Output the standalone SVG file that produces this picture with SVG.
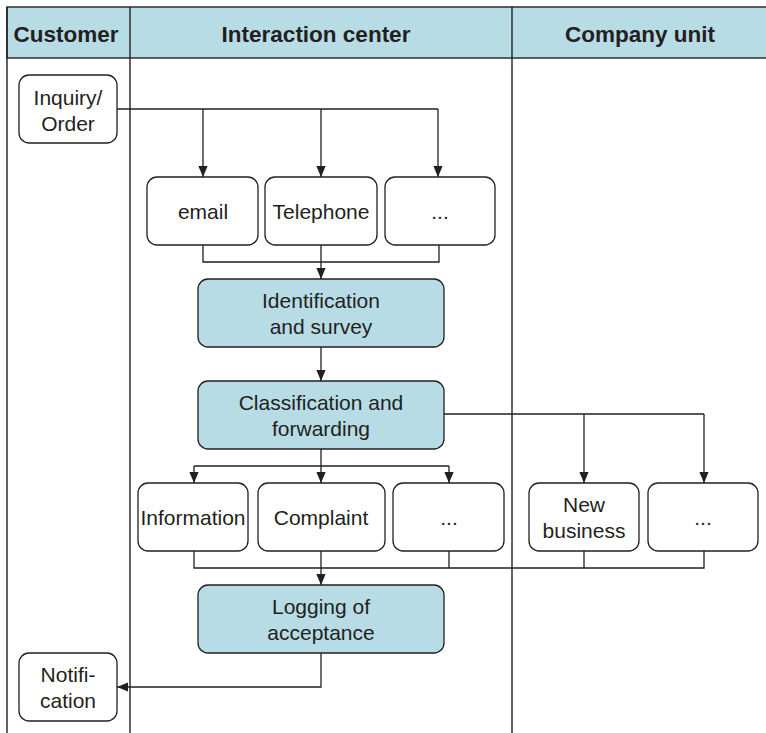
<svg xmlns="http://www.w3.org/2000/svg" width="766" height="733" viewBox="0 0 766 733">
<style>
.lane{fill:none;stroke:#231f20;stroke-width:1.4}
.hdr{fill:#b7dce6;stroke:#231f20;stroke-width:1.4}
.hd{font-family:"Liberation Sans",Arial,sans-serif;font-weight:bold;font-size:22.5px;fill:#231f20;text-anchor:middle}
.box{fill:#fff;stroke:#231f20;stroke-width:1.3}
.blue{fill:#b7dce6;stroke:#231f20;stroke-width:1.3}
.t{font-family:"Liberation Sans",Arial,sans-serif;font-size:21px;fill:#231f20;text-anchor:middle}
.c{fill:none;stroke:#231f20;stroke-width:1.3}
</style>
<defs>
<marker id="a" viewBox="0 0 10 10" refX="10" refY="5" markerWidth="11" markerHeight="11" markerUnits="userSpaceOnUse" orient="auto">
<path d="M0,0.8 L10,5 L0,9.2 Z" fill="#231f20"/>
</marker>
</defs>
<g id="lanes">
<rect class="hdr" x="7" y="7" width="770" height="51"/>
<line class="lane" x1="7" y1="7" x2="7" y2="733"/>
<line class="lane" x1="130" y1="7" x2="130" y2="733"/>
<line class="lane" x1="512" y1="7" x2="512" y2="733"/>
<text class="hd" x="66" y="42">Customer</text>
<text class="hd" x="316" y="42">Interaction center</text>
<text class="hd" x="640" y="42">Company unit</text>
</g>
<g id="connectors">
<path class="c" d="M117,109 H438"/>
<path class="c" d="M203,109 V177" marker-end="url(#a)"/>
<path class="c" d="M321,109 V177" marker-end="url(#a)"/>
<path class="c" d="M438,109 V177" marker-end="url(#a)"/>
<path class="c" d="M203,245 V262 H439 V245"/>
<path class="c" d="M321,245 V279" marker-end="url(#a)"/>
<path class="c" d="M321,347 V381" marker-end="url(#a)"/>
<path class="c" d="M444,414 H704"/>
<path class="c" d="M584,414 V483" marker-end="url(#a)"/>
<path class="c" d="M704,414 V483" marker-end="url(#a)"/>
<path class="c" d="M321,449 V466"/>
<path class="c" d="M194,466 H449"/>
<path class="c" d="M194,466 V483" marker-end="url(#a)"/>
<path class="c" d="M321,466 V483" marker-end="url(#a)"/>
<path class="c" d="M449,466 V483" marker-end="url(#a)"/>
<path class="c" d="M194,551 V568 H704 V551"/>
<path class="c" d="M449,551 V568"/>
<path class="c" d="M584,551 V568"/>
<path class="c" d="M321,551 V585" marker-end="url(#a)"/>
<path class="c" d="M321,653 V687 H117" marker-end="url(#a)"/>
</g>
<g id="inquiry"><rect class="box" x="19" y="75" width="98" height="68" rx="10"/><text class="t" x="68" y="105">Inquiry/</text><text class="t" x="68" y="131">Order</text></g>
<g id="email"><rect class="box" x="147" y="177" width="111" height="68" rx="10"/><text class="t" x="203" y="219">email</text></g>
<g id="telephone"><rect class="box" x="265" y="177" width="112" height="68" rx="10"/><text class="t" x="321" y="219">Telephone</text></g>
<g id="more1"><rect class="box" x="385" y="177" width="110" height="68" rx="10"/><text class="t" x="440" y="219">...</text></g>
<g id="identification"><rect class="blue" x="198" y="279" width="246" height="68" rx="10"/><text class="t" x="321" y="308">Identification</text><text class="t" x="321" y="334">and survey</text></g>
<g id="classification"><rect class="blue" x="198" y="381" width="246" height="68" rx="10"/><text class="t" x="321" y="410">Classification and</text><text class="t" x="321" y="436">forwarding</text></g>
<g id="information"><rect class="box" x="138" y="483" width="110" height="68" rx="10"/><text class="t" x="193" y="525">Information</text></g>
<g id="complaint"><rect class="box" x="258" y="483" width="127" height="68" rx="10"/><text class="t" x="321" y="525">Complaint</text></g>
<g id="more2"><rect class="box" x="393" y="483" width="111" height="68" rx="10"/><text class="t" x="449" y="525">...</text></g>
<g id="newbusiness"><rect class="box" x="529" y="483" width="110" height="68" rx="10"/><text class="t" x="584" y="512">New</text><text class="t" x="584" y="538">business</text></g>
<g id="more3"><rect class="box" x="648" y="483" width="110" height="68" rx="10"/><text class="t" x="703" y="525">...</text></g>
<g id="logging"><rect class="blue" x="198" y="585" width="246" height="68" rx="10"/><text class="t" x="321" y="614">Logging of</text><text class="t" x="321" y="640">acceptance</text></g>
<g id="notification"><rect class="box" x="19" y="653" width="98" height="68" rx="10"/><text class="t" x="68" y="682">Notifi-</text><text class="t" x="68" y="708">cation</text></g>
</svg>
